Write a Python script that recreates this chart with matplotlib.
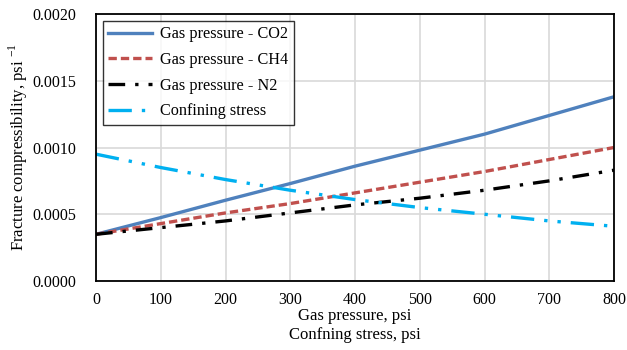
import matplotlib
matplotlib.use("Agg")
import matplotlib.pyplot as plt
from matplotlib.ticker import FormatStrFormatter, MultipleLocator

pressure = [0, 100, 200, 300, 400, 500, 600, 700, 800]
co2 = [0.00035, 0.000475, 0.000605, 0.00073, 0.00086, 0.00098, 0.00110, 0.00124, 0.00138]
ch4 = [0.00035, 0.00043, 0.00051, 0.00058, 0.00066, 0.00074, 0.00082, 0.00091, 0.00100]
n2 = [0.00035, 0.00040, 0.00045, 0.00051, 0.00057, 0.00062, 0.00068, 0.00075, 0.00083]
confining = [0.00095, 0.00085, 0.00076, 0.00068, 0.00061, 0.00055, 0.00050, 0.00045, 0.00041]

plt.rcParams['font.family'] = ['Liberation Serif', 'DejaVu Serif']

fig = plt.figure(figsize=(6.27, 3.5), dpi=100)
ax = fig.add_axes([96/627, 1-281/350, (614-96)/627, (281-14)/350])

ax.plot(pressure, co2, color='#4F81BD', lw=2.4, label='Gas pressure - CO2')
ax.plot(pressure, ch4, color='#C0504D', lw=2.4, dashes=(2.5, 1.2), label='Gas pressure - CH4')
ax.plot(pressure, n2, color='black', lw=2.4, dashes=(5, 3, 1, 3), label='Gas pressure - N2')
ax.plot(pressure, confining, color='#00B0F0', lw=2.4, dashes=(7, 3, 1, 3, 1, 3), label='Confining stress')

ax.set_xlim(0, 800)
ax.set_ylim(0, 0.002)
ax.xaxis.set_major_locator(MultipleLocator(100))
ax.yaxis.set_major_locator(MultipleLocator(0.0005))
ax.yaxis.set_major_formatter(FormatStrFormatter('%.4f'))
ax.grid(True, color='#D9D9D9', lw=1.2)
ax.set_axisbelow(True)
ax.tick_params(length=0, labelsize=11.5)
ax.tick_params(axis='x', pad=8)
ax.tick_params(axis='y', pad=14)
for s in ax.spines.values():
    s.set_color('black')
    s.set_linewidth(1.3)

ax.set_xlabel('Gas pressure, psi\nConfning stress, psi', fontsize=12, labelpad=0, linespacing=1.25)
ax.set_ylabel('Fracture compressibility, psi $^{\\mathregular{-1}}$', fontsize=12, labelpad=2)

leg = ax.legend(loc='upper left', fontsize=11.7, frameon=True, fancybox=False,
                edgecolor='black', handlelength=2.7, handletextpad=0.5,
                borderaxespad=0.4, borderpad=0.35, labelspacing=0.6)
leg.get_frame().set_linewidth(1.0)

fig.savefig('out.png', dpi=100)
